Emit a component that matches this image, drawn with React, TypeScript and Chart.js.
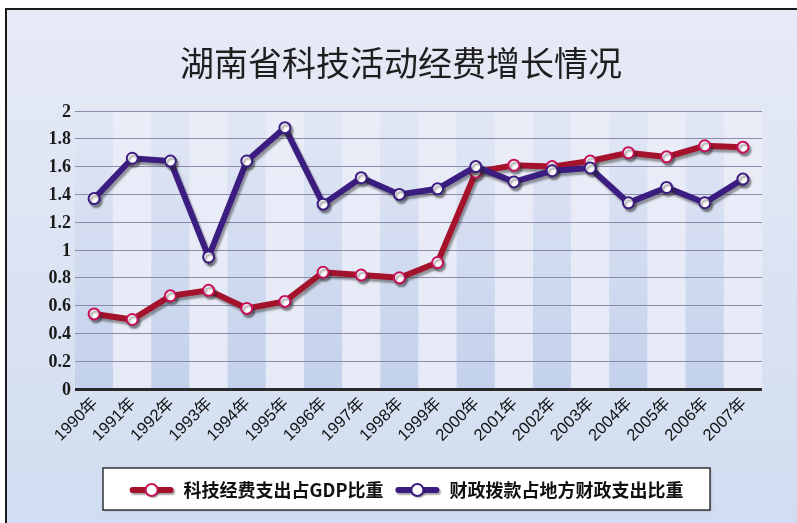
import React, { useEffect, useRef } from "react";
import { Chart, registerables } from "chart.js";

Chart.register(...registerables);

const titleText = "湖南省科技活动经费增长情况";
const years = [
  "1990年", "1991年", "1992年", "1993年", "1994年", "1995年", "1996年", "1997年", "1998年",
  "1999年", "2000年", "2001年", "2002年", "2003年", "2004年", "2005年", "2006年", "2007年",
];
const gdpLabel = "科技经费支出占GDP比重";
const gdpShare = [0.54, 0.5, 0.67, 0.71, 0.58, 0.63, 0.84, 0.82, 0.8, 0.91, 1.56, 1.61, 1.6, 1.64, 1.7, 1.67, 1.75, 1.74];
const fiscalLabel = "财政拨款占地方财政支出比重";
const fiscalShare = [1.37, 1.66, 1.64, 0.95, 1.64, 1.88, 1.33, 1.52, 1.4, 1.44, 1.6, 1.49, 1.57, 1.59, 1.34, 1.45, 1.34, 1.51];
const yTickValues = [0, 0.2, 0.4, 0.6, 0.8, 1, 1.2, 1.4, 1.6, 1.8, 2];
const yTickLabels = ["0", "0.2", "0.4", "0.6", "0.8", "1", "1.2", "1.4", "1.6", "1.8", "2"];

const W = 797;
const H = 523;

const backgroundPlugin = {
  id: "bgPlugin",
  beforeDraw(chart: any) {
    const { ctx, chartArea, scales } = chart;
    ctx.save();
    ctx.fillStyle = "#ffffff";
    ctx.fillRect(0, 0, W, H);
    const g = ctx.createLinearGradient(0, 8, 0, H);
    g.addColorStop(0, "#e7eaf6");
    g.addColorStop(1, "#d0ddf0");
    ctx.fillStyle = g;
    ctx.fillRect(5, 8, W - 5, H - 8);
    ctx.fillStyle = "#1a1a1a";
    ctx.fillRect(5, 8, W - 5, 2);
    ctx.fillRect(5, 8, 2, H - 8);

    const x = scales.x;
    const n = chart.data.labels.length;
    const bw = (chartArea.right - chartArea.left) / n;
    for (let i = 0; i < n; i++) {
      const cx = x.getPixelForValue(i);
      const gb = ctx.createLinearGradient(0, chartArea.top, 0, chartArea.bottom);
      if (i % 2 === 0) {
        gb.addColorStop(0, "#e2e7f5");
        gb.addColorStop(1, "#c3d1eb");
      } else {
        gb.addColorStop(0, "#eaedf8");
        gb.addColorStop(1, "#e6eaf6");
      }
      ctx.fillStyle = gb;
      ctx.fillRect(cx - bw / 2, chartArea.top, bw, chartArea.bottom - chartArea.top);
    }

    ctx.fillStyle = "#1e1e1e";
    ctx.font = '34px "Noto Sans CJK SC", sans-serif';
    ctx.textAlign = "center";
    ctx.textBaseline = "middle";
    ctx.fillText(titleText, 401, 63);

    // y tick labels
    const y = scales.y;
    ctx.fillStyle = "#1a1a1a";
    ctx.font = 'bold 18px "Liberation Serif", serif';
    ctx.textAlign = "right";
    ctx.textBaseline = "middle";
    yTickValues.forEach((v, i) => {
      ctx.fillText(yTickLabels[i], chartArea.left - 4, y.getPixelForValue(v) + 1);
    });

    // x tick labels, rotated 45°
    ctx.fillStyle = "#111111";
    ctx.font = '16.5px "Liberation Sans", "Noto Sans CJK SC", sans-serif';
    chart.data.labels.forEach((lab: string, i: number) => {
      const px = x.getPixelForValue(i);
      ctx.save();
      ctx.translate(px + 1, chartArea.bottom + 12);
      ctx.rotate(-Math.PI / 4);
      ctx.textAlign = "right";
      ctx.textBaseline = "middle";
      ctx.fillText(lab, 0, 0);
      ctx.restore();
    });

    // legend
    const bx = 103, by = 468, bwid = 607, bh = 42;
    ctx.shadowColor = "rgba(0,0,0,0.25)";
    ctx.shadowOffsetX = 1;
    ctx.shadowOffsetY = 1;
    ctx.shadowBlur = 2;
    ctx.fillStyle = "#ffffff";
    ctx.fillRect(bx, by, bwid, bh);
    ctx.shadowColor = "transparent";
    ctx.strokeStyle = "#333333";
    ctx.lineWidth = 1.5;
    ctx.strokeRect(bx, by, bwid, bh);

    ctx.font = 'bold 18px "Noto Sans CJK SC", serif';
    ctx.textAlign = "left";
    const ds = chart.data.datasets;
    const symW = 44, gap1 = 10, gap2 = 12;
    let total = 0;
    ds.forEach((d: any, i: number) => {
      total += symW + gap1 + ctx.measureText(d.label).width + (i < ds.length - 1 ? gap2 : 0);
    });
    let cx = bx + (bwid - total) / 2;
    const cy = by + bh / 2 + 1;
    ds.forEach((d: any) => {
      ctx.save();
      ctx.shadowColor = "rgba(0,0,0,0.35)";
      ctx.shadowOffsetX = 1.5;
      ctx.shadowOffsetY = 2;
      ctx.shadowBlur = 1.5;
      ctx.strokeStyle = d.borderColor;
      ctx.lineWidth = 6;
      ctx.lineCap = "round";
      ctx.beginPath();
      ctx.moveTo(cx + 3, cy);
      ctx.lineTo(cx + symW - 3, cy);
      ctx.stroke();
      ctx.beginPath();
      ctx.arc(cx + symW / 2, cy, 6, 0, Math.PI * 2);
      ctx.fillStyle = "#ffffff";
      ctx.fill();
      ctx.shadowColor = "transparent";
      ctx.lineWidth = 2;
      ctx.strokeStyle = d.pointBorderColor;
      ctx.stroke();
      ctx.restore();
      cx += symW + gap1;
      ctx.fillStyle = "#111111";
      ctx.textBaseline = "middle";
      ctx.fillText(d.label, cx, cy);
      cx += ctx.measureText(d.label).width + gap2;
    });
    ctx.restore();
  },
  beforeDatasetDraw(chart: any) {
    const ctx = chart.ctx;
    ctx.save();
    ctx.shadowColor = "rgba(40,40,40,0.45)";
    ctx.shadowOffsetX = 2;
    ctx.shadowOffsetY = 3;
    ctx.shadowBlur = 2;
  },
  afterDatasetDraw(chart: any) {
    chart.ctx.restore();
  },
};

export default function App() {
  const ref = useRef<HTMLCanvasElement>(null);
  useEffect(() => {
    if (!ref.current) return;
    const chart = new Chart(ref.current, {
      type: "line",
      data: {
        labels: years,
        datasets: [
          {
            label: gdpLabel,
            data: gdpShare,
            borderColor: "#a5122c",
            backgroundColor: "#a5122c",
            borderWidth: 6,
            pointRadius: 5.5,
            pointBorderWidth: 2,
            pointBackgroundColor: "#ffffff",
            pointBorderColor: "#c8105a",
            tension: 0,
            order: 2,
          },
          {
            label: fiscalLabel,
            data: fiscalShare,
            borderColor: "#3b1c80",
            backgroundColor: "#3b1c80",
            borderWidth: 6,
            pointRadius: 5.5,
            pointBorderWidth: 2,
            pointBackgroundColor: "#ffffff",
            pointBorderColor: "#3b1c80",
            tension: 0,
            order: 1,
          },
        ],
      },
      options: {
        responsive: false,
        animation: false,
        devicePixelRatio: 1,
        layout: { padding: { top: 111, right: 35, left: 0, bottom: 0 } },
        plugins: {
          legend: { display: false },
          title: { display: false },
          tooltip: { enabled: false },
        },
        scales: {
          x: {
            offset: true,
            grid: { display: false, drawTicks: false },
            border: { display: false },
            ticks: { display: false },
            afterFit: (s: any) => {
              s.height = 134;
            },
          },
          y: {
            type: "linear",
            min: 0,
            max: 2,
            afterBuildTicks: (s: any) => {
              s.ticks = yTickValues.map((v) => ({ value: v }));
            },
            grid: {
              drawTicks: false,
              color: (c: any) => (c.tick && c.tick.value === 0 ? "#2a2a2a" : "#8c8caa"),
              lineWidth: (c: any) => (c.tick && c.tick.value === 0 ? 3 : 1),
            },
            border: { display: false },
            ticks: { display: false },
            afterFit: (s: any) => {
              s.width = 75;
            },
          },
        },
      },
      plugins: [backgroundPlugin],
    } as any);
    return () => chart.destroy();
  }, []);
  return (
    <div style={{ position: "fixed", left: 0, top: 0, width: W, height: H }}>
      <canvas ref={ref} width={W} height={H} style={{ display: "block", width: W, height: H }} />
    </div>
  );
}
